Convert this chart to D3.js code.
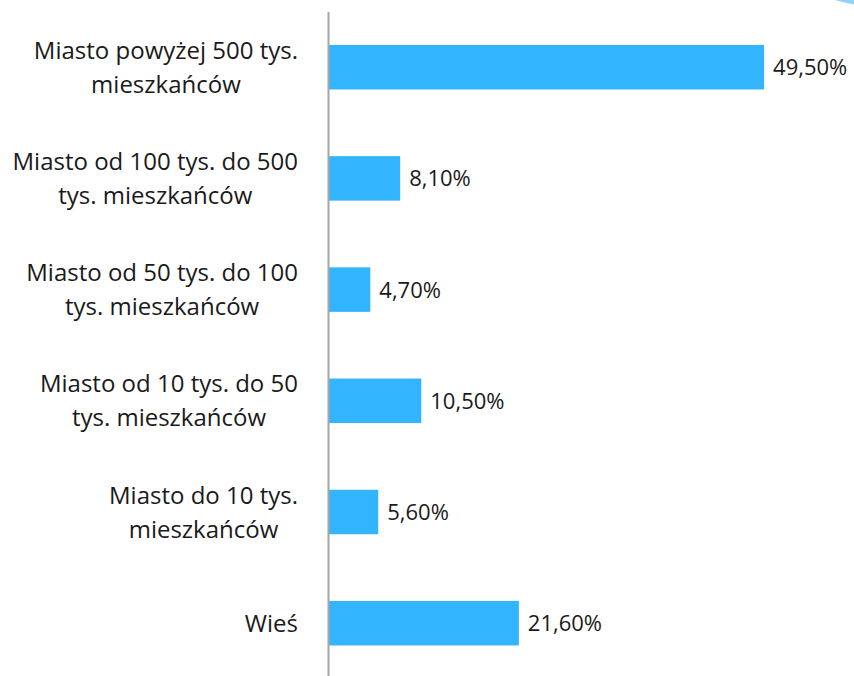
<!DOCTYPE html>
<meta charset="utf-8">
<style>
body { margin: 0; background: #fff; }
text { font-family: "Open Sans", sans-serif; fill: #1a1a1a; }
.cat { font-size: 24px; }
.val { font-size: 22px; }
.axis .domain { stroke: #a6a6a6; stroke-width: 2px; }
</style>
<body>
<script src="https://cdn.jsdelivr.net/npm/d3@7"></script>
<script>

var categories = [
  ["Miasto powyżej 500 tys.", "mieszkańców"],
  ["Miasto od 100 tys. do 500", "tys. mieszkańców"],
  ["Miasto od 50 tys. do 100", "tys. mieszkańców"],
  ["Miasto od 10 tys. do 50", "tys. mieszkańców"],
  ["Miasto do 10 tys.", "mieszkańców"],
  ["Wieś"]
];
var values = [49.5, 8.1, 4.7, 10.5, 5.6, 21.6];
var valueLabels = ["49,50%", "8,10%", "4,70%", "10,50%", "5,60%", "21,60%"];

var width = 854,
    height = 676;

var svg = d3.select("body").append("svg")
    .attr("width", width)
    .attr("height", height);

// decorative sliver in the top-right corner
svg.append("path")
    .attr("d", "M835,0 L856,0 L856,5 Q846,3 835,0 Z")
    .attr("fill", "#8fd3f5");

var x = d3.scaleLinear()
    .domain([0, 55])
    .range([329, 329 + 55 * 8.79]);

var y = d3.scaleBand()
    .domain(d3.range(values.length))
    .range([11.6, 678.8])
    .paddingInner(0.6)
    .paddingOuter(0.3);

svg.selectAll("rect.bar")
    .data(values)
  .enter().append("rect")
    .attr("class", "bar")
    .attr("x", x(0))
    .attr("y", function(d, i) { return y(i); })
    .attr("width", function(d) { return x(d) - x(0); })
    .attr("height", y.bandwidth())
    .attr("fill", "#33b4ff");

svg.selectAll("text.val")
    .data(values)
  .enter().append("text")
    .attr("class", "val")
    .attr("x", function(d) { return x(d) + 9; })
    .attr("y", function(d, i) { return y(i) + y.bandwidth() / 2; })
    .attr("dy", "0.36em")
    .text(function(d, i) { return valueLabels[i]; });

// category labels: centred lines, block right-aligned next to the axis
var lineH = 34;
categories.forEach(function(lines, i) {
  var t = svg.append("text")
      .attr("class", "cat")
      .attr("text-anchor", "middle");
  var mid = y(i) + y.bandwidth() / 2;
  lines.forEach(function(s, j) {
    t.append("tspan")
        .attr("y", mid + (j - (lines.length - 1) / 2) * lineH)
        .attr("dy", "0.36em")
        .text(s);
  });
  var w = d3.max(t.selectAll("tspan").nodes(), function(n) { return n.getComputedTextLength(); });
  t.selectAll("tspan").attr("x", 298 - w / 2);
});

svg.append("g")
    .attr("class", "axis")
    .attr("transform", "translate(" + (x(0) - 1) + ",0)")
    .call(d3.axisLeft(y).tickSize(0).tickFormat(""));

</script>
